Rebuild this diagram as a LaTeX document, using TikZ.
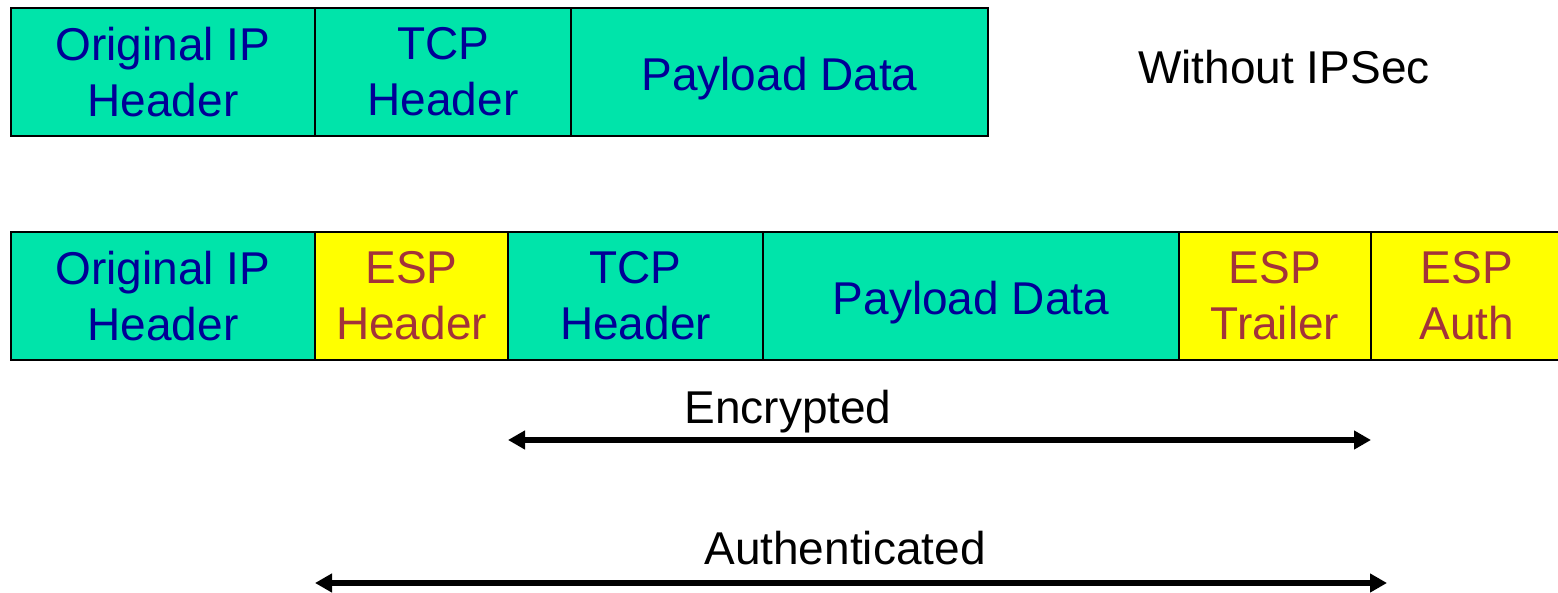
\documentclass[tikz,border=0pt]{standalone}
\usepackage{fontspec}
\setmainfont{Liberation Sans}
\usetikzlibrary{arrows.meta}
\definecolor{fgreen}{RGB}{0,228,170}
\definecolor{fyellow}{RGB}{255,255,0}
\definecolor{tblue}{RGB}{0,0,150}
\definecolor{tred}{RGB}{163,51,58}
\newcommand{\lowline}[1]{\raisebox{0pt}[45pt][7pt]{#1}}
\begin{document}
\begin{tikzpicture}[x=1pt,y=-1pt,
  field/.style={draw=black, line width=2.5pt, inner sep=0pt, outer sep=0pt, align=center,
    font=\fontsize{46}{56}\selectfont, anchor=north west, minimum height=128pt},
  gfield/.style={field, fill=fgreen, text=tblue},
  yfield/.style={field, fill=fyellow, text=tred},
  lbl/.style={font=\fontsize{46}{56}\selectfont, text=black, inner sep=0pt},
  arr/.style={line width=6pt, {Triangle[length=17pt,width=18pt]}-{Triangle[length=17pt,width=18pt]}}]
\clip (0,0) rectangle (1558,593);
\fill[white] (0,0) rectangle (1558,593);
% row 1
\node[gfield, minimum width=304pt] (ip1) at (11,8) {Original IP\\Header};
\node[gfield, minimum width=256pt] (tcp1) at (315,8) {TCP\\Header};
\node[gfield, minimum width=417pt] (pay1) at (571,8) {\lowline{Payload Data}};
\node[lbl, anchor=base] (wo) at (1284,84) {Without IPSec};
% row 2
\node[gfield, minimum width=304pt] (ip2) at (11,232) {Original IP\\Header};
\node[yfield, minimum width=193pt] (esph) at (315,232) {ESP\\Header};
\node[gfield, minimum width=255pt] (tcp2) at (508,232) {TCP\\Header};
\node[gfield, minimum width=416pt] (pay2) at (763,232) {\lowline{Payload Data}};
\node[yfield, minimum width=192pt] (espt) at (1179,232) {ESP\\Trailer};
\node[yfield, minimum width=192pt] (espa) at (1371,232) {ESP\\Auth};
% arrows
\node[lbl, anchor=base] (enc) at (788,423) {Encrypted};
\node[lbl, anchor=base] (auth) at (845,564) {Authenticated};
\coordinate (e1) at (508,440);
\coordinate (e2) at (1371,440);
\coordinate (a1) at (315,583);
\coordinate (a2) at (1387,583);
\draw[arr] (e1) -- (e2);
\draw[arr] (a1) -- (a2);
\end{tikzpicture}
\end{document}
